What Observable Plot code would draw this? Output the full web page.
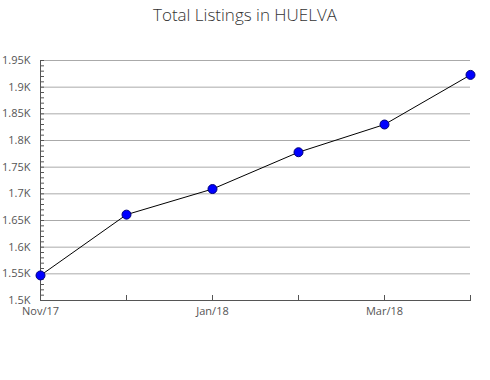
<!DOCTYPE html>
<html>
<head>
<meta charset="utf-8">
<script src="https://cdn.jsdelivr.net/npm/d3@7"></script>
<script src="https://cdn.jsdelivr.net/npm/@observablehq/plot@0.6"></script>
<style>
  body { margin: 0; background: #fff; width: 490px; height: 380px; overflow: hidden; }
  #title { height: 32px; line-height: 30px; text-align: center; font-family: "Open Sans", sans-serif; font-weight: 300; font-size: 17px; color: #333; }
  svg { display: block; }
</style>
</head>
<body>
<div id="title">Total Listings in HUELVA</div>
<div id="chart"></div>
<script>
const months = ["Nov/17", "Dec/17", "Jan/18", "Feb/18", "Mar/18", "Apr/18"];
const listings = [1547, 1661, 1709, 1778, 1830, 1923];
const labeledMonths = ["Nov/17", "Jan/18", "Mar/18"];
const majorTicks = [1500, 1550, 1600, 1650, 1700, 1750, 1800, 1850, 1900, 1950];
const minorTicks = d3.range(1500, 1951, 10);

const data = months.map((m, i) => ({month: m, value: listings[i]}));

const chart = Plot.plot({
  width: 490,
  height: 348,
  marginTop: 28,
  marginBottom: 80,
  marginLeft: 40,
  marginRight: 20,
  style: {fontFamily: "'Open Sans', sans-serif", fontSize: "11px", color: "#555", background: "#fff"},
  x: {type: "point", domain: months, padding: 0, label: null},
  y: {domain: [1500, 1950], label: null},
  marks: [
    Plot.gridY(majorTicks, {stroke: "#aaa", strokeOpacity: 1}),
    Plot.axisY({ticks: minorTicks, tickSize: 4, dx: 4, tickFormat: () => "", stroke: "#555"}),
    Plot.axisY({ticks: majorTicks, tickSize: 0, tickPadding: 10, tickFormat: d => (d / 1000) + "K", fill: "#555"}),
    Plot.axisX({ticks: months, tickSize: 5, dy: -5, tickFormat: () => "", stroke: "#555"}),
    Plot.axisX({ticks: labeledMonths, tickSize: 0, tickPadding: 7, fill: "#555"}),
    Plot.frame({anchor: "left", stroke: "#555"}),
    Plot.frame({anchor: "bottom", stroke: "#555"}),
    Plot.line(data, {x: "month", y: "value", stroke: "#000", strokeWidth: 1}),
    Plot.dot(data, {x: "month", y: "value", r: 4.5, fill: "#0000ff", stroke: "#00007a", strokeWidth: 1})
  ]
});
document.getElementById("chart").appendChild(chart);
</script>
</body>
</html>
